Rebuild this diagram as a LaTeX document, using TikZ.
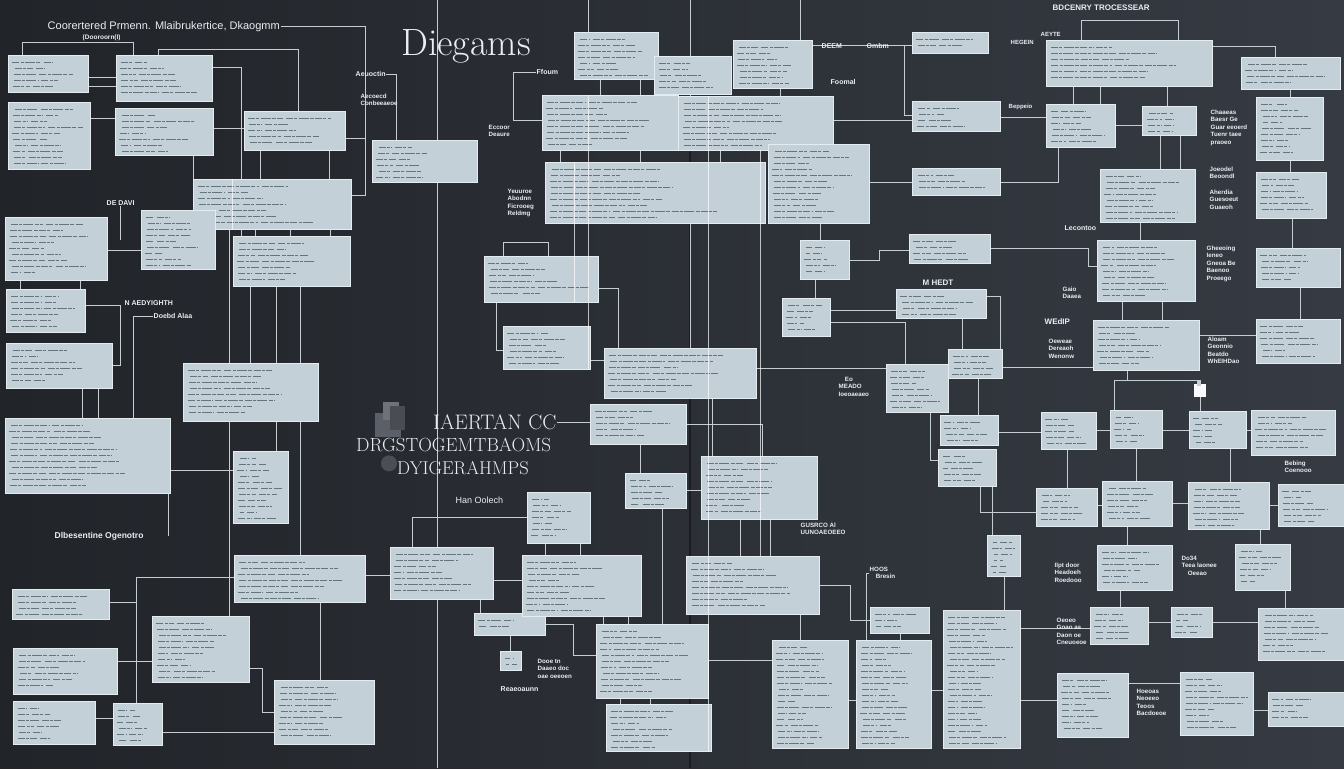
\documentclass[tikz,border=0pt]{standalone}
\usepackage{fontspec}
\usepackage{graphicx}
\setsansfont{Liberation Sans}
\usetikzlibrary{calc}
\pgfdeclarelayer{bg}
\pgfdeclarelayer{background}
\pgfsetlayers{bg,background,main}

\definecolor{bgA}{HTML}{212429}
\definecolor{bgB}{HTML}{363B43}
\definecolor{boxc}{HTML}{C3D0D7}
\definecolor{boxe}{HTML}{E4ECEF}
\definecolor{inkc}{HTML}{65747D}
\definecolor{wirec}{HTML}{C3CDD2}
\definecolor{labc}{HTML}{E9EEF1}
\definecolor{iconA}{HTML}{5B6068}
\definecolor{iconB}{HTML}{6E737B}
\definecolor{seam}{HTML}{1A1D21}

\tikzset{
  box/.style={draw=boxe, line width=0.5pt, fill=boxc, inner sep=0pt, outer sep=0pt},
  ink/.style={draw=inkc, line width=1.1pt, dash pattern=on 7pt off 1.3pt on 3pt off 1.3pt on 10pt off 1.3pt on 4pt off 1.3pt},
  wire/.style={draw=wirec, line width=0.8pt},
  over/.style={draw=white, line width=0.8pt, opacity=0.7},
  lab/.style={text=labc, font=\sffamily\bfseries\fontsize{7}{8}\selectfont, inner sep=0.5pt, anchor=west},
  labs/.style={text=labc, font=\sffamily\bfseries\fontsize{6.2}{7.4}\selectfont, inner sep=0.5pt, anchor=north west, align=left},
  big/.style={text=labc, font=\fontsize{19}{20}\selectfont, inner sep=0pt, anchor=west},
}

% scribbled text rows inside a panel
\newcommand\fakelines[4]{%
  \pgfmathsetmacro\fw{#3-#1-10}%
  \pgfmathsetmacro\ya{#2+7}\pgfmathsetmacro\yb{#2+13}\pgfmathsetmacro\yc{#4-4}%
  \foreach \yy in {\ya,\yb,...,\yc}{%
    \pgfmathsetmacro\la{\fw*(0.1+0.35*rnd)}%
    \pgfmathsetmacro\lb{\fw*(0.08+0.42*rnd)}%
    \pgfmathsetmacro\xa{#1+4+3*rnd}%
    \draw[ink] (\xa,\yy) -- ++(\la,0) ++(3,0) -- ++(\lb,0);}}

% panel: name, left, top, right, bottom (pixels)
\newcommand\bx[5]{%
  \expandafter\xdef\csname bxx@#1\endcsname{#2}%
  \expandafter\xdef\csname byy@#1\endcsname{#3}%
  \pgfmathsetmacro\bw{#4-#2}\pgfmathsetmacro\bh{#5-#3}%
  \node[box,minimum width=\bw pt,minimum height=\bh pt] (#1) at ({(#2+#4)/2},{(#3+#5)/2}) {};%
  \fakelines{#2}{#3}{#4}{#5}}

% named point on a panel side: name, panel, side (n/s/e/w), absolute position
\newcommand\port[4]{%
  \edef\tmpx{\csname bxx@#2\endcsname}\edef\tmpy{\csname byy@#2\endcsname}%
  \pgfmathsetmacro\pdx{#4-\tmpx}\pgfmathsetmacro\pdy{\tmpy-#4}%
  \if n#3\coordinate (#1) at ([xshift=\pdx pt]#2.north west);\fi
  \if s#3\coordinate (#1) at ([xshift=\pdx pt]#2.south west);\fi
  \if e#3\coordinate (#1) at ([yshift=\pdy pt]#2.north east);\fi
  \if w#3\coordinate (#1) at ([yshift=\pdy pt]#2.north west);\fi}
\newcommand\vl[3]{\port{va}{#1}{s}{#3}\port{vb}{#2}{n}{#3}\draw[wire] (va) -- (vb);}
\newcommand\hl[3]{\port{va}{#1}{e}{#3}\port{vb}{#2}{w}{#3}\draw[wire] (va) -- (vb);}

\begin{document}
\begin{tikzpicture}[x=1pt,y=-1pt]
\pgfmathsetseed{7}
\begin{pgfonlayer}{bg}
  \shade[left color=bgA, right color=bgB] (0,0) rectangle (1344,768);
  \draw[wirec, line width=0.7pt] (437,0) -- (437,768);
  \draw[seam, line width=1.6pt] (690,96) -- (690,768);
\end{pgfonlayer}
\useasboundingbox (0,0) rectangle (1344,768);

% ---------- panels ----------
\bx{b1}{8}{55}{88}{92}
\bx{b2}{116}{55}{212}{101}
\bx{b3}{8}{102}{90}{169}
\bx{b4}{115}{108}{213}{155}
\bx{b5}{244}{111}{345}{150}
\bx{b6}{372}{140}{477}{182}
\bx{b7}{193}{179}{351}{229}
\bx{b8}{141}{210}{215}{269}
\bx{b9}{233}{236}{350}{286}
\bx{b10}{5}{217}{107}{280}
\bx{b11}{6}{289}{85}{332}
\bx{b12}{6}{343}{112}{388}
\bx{b13}{183}{363}{318}{421}
\bx{b14}{5}{418}{170}{493}
\bx{b15}{233}{451}{288}{523}
\bx{b16}{12}{589}{109}{619}
\bx{b17}{152}{616}{249}{682}
\bx{b18}{13}{648}{117}{694}
\bx{b19}{13}{701}{95}{744}
\bx{b20}{113}{703}{162}{745}
\bx{b21}{274}{680}{374}{744}
\bx{b22}{234}{555}{365}{602}
\bx{b23}{390}{547}{493}{599}
\bx{b24}{474}{613}{545}{635}
\bx{b25}{522}{555}{641}{616}
\bx{b26}{527}{492}{590}{543}
\bx{b27}{625}{473}{686}{508}
\bx{b28}{596}{624}{708}{698}
\bx{b29}{606}{704}{711}{751}
\bx{b30}{686}{556}{819}{614}
\bx{b31}{701}{456}{817}{519}
\bx{b32}{590}{404}{686}{444}
\bx{b33}{604}{348}{756}{398}
\bx{b34}{503}{326}{590}{369}
\bx{b35}{484}{256}{598}{302}
\bx{b37}{542}{95}{678}{150}
\bx{b38}{678}{96}{833}{150}
\bx{b36}{545}{162}{765}{223}
\bx{b39}{574}{32}{658}{79}
\bx{b40}{654}{56}{731}{94}
\bx{b41}{733}{40}{812}{88}
\bx{b42}{768}{144}{869}{223}
\bx{b43}{800}{240}{849}{279}
\bx{b44}{782}{298}{830}{336}
\bx{b45}{912}{32}{988}{53}
\bx{b46}{1046}{40}{1212}{86}
\bx{b47}{1241}{57}{1340}{89}
\bx{b48}{912}{101}{1000}{131}
\bx{b49}{1046}{104}{1115}{147}
\bx{b50}{1142}{106}{1196}{135}
\bx{b51}{1256}{97}{1323}{160}
\bx{b52}{912}{168}{1000}{195}
\bx{b53}{1100}{169}{1195}{222}
\bx{b54}{1256}{172}{1326}{218}
\bx{b55}{909}{234}{990}{263}
\bx{b56}{1097}{240}{1195}{301}
\bx{b57}{1256}{248}{1340}{287}
\bx{b58}{896}{289}{986}{318}
\bx{b59}{1093}{320}{1199}{370}
\bx{b60}{1256}{319}{1340}{363}
\bx{b61}{948}{349}{1002}{378}
\bx{b62}{886}{364}{948}{412}
\bx{b63}{940}{415}{998}{445}
\bx{b64}{938}{449}{996}{486}
\bx{b65}{1041}{412}{1096}{449}
\bx{b66}{1110}{410}{1162}{448}
\bx{b67}{1189}{411}{1246}{448}
\bx{b68}{1251}{410}{1335}{455}
\bx{b69}{1036}{488}{1097}{526}
\bx{b70}{1102}{481}{1172}{526}
\bx{b71}{1188}{482}{1269}{529}
\bx{b72}{1278}{484}{1344}{526}
\bx{b73}{987}{535}{1020}{576}
\bx{b74}{1097}{545}{1172}{590}
\bx{b75}{1235}{544}{1290}{590}
\bx{b76}{870}{607}{929}{633}
\bx{b77}{856}{640}{931}{748}
\bx{b78}{943}{610}{1020}{748}
\bx{b79}{1090}{607}{1148}{644}
\bx{b80}{1171}{607}{1212}{637}
\bx{b81}{1258}{608}{1344}{660}
\bx{b82}{1057}{673}{1128}{737}
\bx{b83}{1180}{672}{1253}{735}
\bx{b84}{1268}{692}{1344}{726}
\bx{b85}{772}{640}{848}{748}
\bx{b86}{500}{651}{521}{670}

% ---------- labels ----------
\node[text=labc, font=\sffamily\fontsize{11}{12}\selectfont, inner sep=0.5pt, anchor=west] (lt1) at (47,26) {Coorertered Prmenn. Mlaibrukertice, Dkaogmm};
\node[lab, font=\sffamily\bfseries\fontsize{6.5}{7}\selectfont] (lt2) at (82,37) {(Dooroorn(I)};
\node[text=labc, font=\fontsize{38}{40}\selectfont, inner sep=0pt, anchor=west] (lt3) at (401,46) {Diegams};
\node[lab] (lt4) at (536,72) {Ffoum};
\node[lab] (lt5) at (355,74) {Aeuoctin};
\node[labs] (lt6) at (360,93) {Aecoecd\\Conbeeaeoe};
\node[lab] (lt7) at (106,203) {DE DAVI};
\node[lab] (lt8) at (124,303) {N AEDYIGHTH};
\node[lab] (lt9) at (153,316) {Doebd Alaa};
\node[labs] (lt10) at (488,124) {Eccoor\\Deaure};
\node[labs] (lt11) at (507,188) {Yeuuroe\\Abodnn\\Ficrooeg\\Reldmg};
\node[lab] (lt12) at (821,46) {DEEM};
\node[lab] (lt13) at (866,46) {Ombm};
\node[lab] (lt14) at (830,82) {Foomal};
\node[lab, font=\sffamily\bfseries\fontsize{8}{9}\selectfont] (lt15) at (1052,7) {BDCENRY TROCESSEAR};
\node[lab, font=\sffamily\bfseries\fontsize{6}{7}\selectfont] (lt16) at (1040,34) {AEYTE};
\node[lab, font=\sffamily\bfseries\fontsize{6}{7}\selectfont] (lt17) at (1010,42) {HEGEIN};
\node[lab, font=\sffamily\bfseries\fontsize{6}{7}\selectfont] (lt18) at (1008,107) {Beppeio};
\node[labs] (lt19) at (1210,109) {Chaaeas\\Baesr Ge\\Guar eeoerd\\Tuenr taee\\praoeo};
\node[labs] (lt20) at (1209,166) {Joeodel\\Beoondl};
\node[labs] (lt21) at (1209,189) {Aherdia\\Guesoeut\\Guaeoh};
\node[lab] (lt22) at (1064,228) {Lecontoo};
\node[labs] (lt23) at (1206,245) {Gheeoing\\Ieneo\\Gneoa Be\\Baenoo\\Proeego};
\node[lab, font=\sffamily\bfseries\fontsize{8}{9}\selectfont] (lt24) at (922,282) {M HEDT};
\node[labs] (lt25) at (1062,286) {Gaio\\Daaea};
\node[lab, font=\sffamily\bfseries\fontsize{8}{9}\selectfont] (lt26) at (1044,321) {WEdIP};
\node[labs] (lt27) at (1048,338) {Oeweae\\Dereaoh\\Wenonw};
\node[labs] (lt28) at (1207,336) {Aloam\\Geonnio\\Beatdo\\WhEIHDao};
\node[labs] (lt29) at (1284,460) {Bebing\\Coenooo};
\node[labs] (lt30) at (838,376) {\quad Eo\\MEADO\\Ioeoaeaeo};
\node[labs] (lt31) at (800,522) {GUSRCO Al\\UUNOAEOEEO};
\node[labs] (lt32) at (869,566) {HOOS\\\quad Bresin};
\node[labs] (lt33) at (1054,562) {Ilpt door\\Headoeh\\Roedooo};
\node[labs] (lt34) at (1181,555) {Do34\\Teea laonee\\\quad Oeeao};
\node[labs] (lt35) at (1056,617) {Oeoeo\\Goao aa\\Daon oe\\Cneuoeoe};
\node[labs] (lt36) at (1136,688) {Hoeoas\\Neoeeo\\Teoos\\Bacdoeoe};
\node[lab, font=\sffamily\bfseries\fontsize{8.5}{9}\selectfont] (lt37) at (54,536) {Dlbesentine Ogenotro};
\node[big, font=\fontsize{21}{22}\selectfont] (lt38) at (433,422) {IAERTAN CC};
\node[big] (lt39) at (356,445) {DRGSTOGEMTBAOMS};
\node[big, font=\fontsize{18.5}{20}\selectfont] (lt40) at (397,468) {DYIGERAHMPS};
\node[lab, font=\sffamily\fontsize{9}{10}\selectfont] (lt41) at (455,500) {Han Oolech};
\node[labs] (lt42) at (537,658) {Dooe tn\\Daaeo doc\\oae oeeoen};
\node[lab] (lt43) at (500,689) {Reaeoaunn};

% small icons
\fill[iconA] (375,413) rectangle (401,437);
\fill[iconB] (383,402) rectangle (399,420);
\fill[iconA!80!black] (390,406) rectangle (405,430);
\fill[iconA!70!bgA] (389,463) circle (8);
\fill[white!90!boxc] (1194,384) rectangle (1206,397);
\fill[boxc] (1197,381) rectangle (1201,386);

% ---------- connectors ----------
\begin{pgfonlayer}{background}
\port{p}{b1}{n}{22}\port{q}{b2}{n}{133}\draw[wire] (p) -- ++(0,-13) -| (q);
\port{p}{b2}{n}{158}\port{q}{b5}{n}{298}\draw[wire] (p) -- ++(0,-6) -| (q);
\hl{b1}{b2}{77}\hl{b1}{b2}{86}
\hl{b3}{b4}{118}\hl{b4}{b5}{128}
\port{p}{b5}{e}{138}\draw[wire] (p) -- ++(20,0) |- (lt1.east);
\port{q}{b7}{e}{195}\draw[wire] (p) -- ++(20,0) |- (q);
\port{p}{b6}{n}{396}\draw[wire] (p) |- (lt5.east);
\vl{b4}{b7}{193}
\vl{b5}{b7}{260}\vl{b5}{b7}{329}
\port{p}{b2}{e}{67}\port{q}{b9}{n}{241}\draw[wire] (p) -| (q);
\vl{b7}{b9}{255}\vl{b7}{b9}{290}\vl{b7}{b9}{330}
\hl{b10}{b8}{250}
\draw[wire] (lt7.south) -- (lt7.south |- b8.west);
\vl{b10}{b11}{20}\vl{b10}{b11}{80}
\port{p}{b11}{e}{305}\port{q}{b12}{e}{365}\draw[wire] (p) -- ++(35,0) |- (q);
\port{p}{b14}{n}{133}\draw[wire] (lt9.west) -| (p);
\vl{b12}{b14}{82}\vl{b12}{b14}{98}
\vl{b9}{b13}{250}\vl{b9}{b13}{276}
\vl{b9}{b22}{300}
\vl{b7}{b17}{229}
\vl{b13}{b15}{276}
\hl{b14}{b15}{470}
\port{p}{b14}{s}{168}\draw[wire] (p) -- (p |- lt37.east);
\port{p}{b16}{e}{602}\port{q}{b20}{n}{136}\draw[wire] (p) -| (q);
\port{q}{b22}{w}{577}\draw[wire] (p) -- ++(27,0) |- (q);
\port{p}{b17}{e}{668}\port{q}{b21}{w}{712}\draw[wire] (p) -- ++(13,0) |- (q);
\hl{b18}{b17}{661}
\hl{b19}{b20}{718}
\hl{b20}{b21}{732}
\vl{b22}{b21}{320}
\hl{b22}{b23}{575}
\vl{b23}{b24}{480}
\hl{b23}{b25}{580}
\port{p}{b23}{n}{412}\draw[wire] (p) |- (b26.west);
\vl{b26}{b25}{545}\vl{b26}{b25}{580}
\vl{b25}{b28}{603}\vl{b25}{b28}{628}
\vl{b28}{b29}{620}\vl{b28}{b29}{650}
\hl{b27}{b31}{490}
\vl{b31}{b30}{740}\vl{b31}{b30}{770}
\vl{b30}{b85}{800}
\port{p}{b24}{e}{624}\port{q}{b28}{w}{655}\draw[wire] (p) -- ++(28,0) |- (q);
\vl{b32}{b27}{640}
\vl{b33}{b31}{712}
\hl{b34}{b33}{360}
\port{p}{b35}{n}{503}\port{q}{b35}{n}{548}\draw[wire] (p) -- ++(0,-14) -| (q);
\port{p}{b35}{e}{288}\port{q}{b33}{n}{618}\draw[wire] (p) -| (q);
\port{p}{b35}{s}{496}\port{q}{b34}{w}{350}\draw[wire] (p) |- (q);
\draw[wire] (lt38.east) -- (lt38.east -| b32.west);
\vl{b37}{b36}{560}\vl{b37}{b36}{640}\vl{b38}{b36}{720}
\vl{b39}{b37}{600}\vl{b39}{b37}{640}
\vl{b41}{b38}{780}
\vl{b36}{b33}{690}
\vl{b42}{b43}{820}
\vl{b43}{b44}{815}
\port{p}{b44}{e}{322}\port{q}{b62}{n}{905}\draw[wire] (p) -| (q);
\port{p}{b37}{w}{120}\draw[wire] (p) -- ++(-29,0) |- (lt4.west);
\port{p}{b39}{n}{588}\draw[wire] (p) -- ++(0,-32);
\port{p}{b38}{n}{690}\draw[wire] (p) -- ++(0,-96);
\port{p}{b41}{n}{800}\draw[wire] (p) -- ++(0,-40);
% right half
\port{p}{b45}{w}{45}\port{q}{b48}{w}{115}\draw[wire] (p) -- ++(-8,0) |- (q);
\port{p}{b46}{n}{1081}\port{q}{b46}{n}{1178}\draw[wire] (p) -- ++(0,-20) -| (q);
\port{p}{b46}{e}{46}\port{q}{b47}{n}{1275}\draw[wire] (p) -| (q);
\vl{b46}{b49}{1073}\vl{b46}{b49}{1100}\vl{b46}{b50}{1167}
\hl{b48}{b49}{117}\hl{b49}{b50}{125}
\vl{b50}{b53}{1160}\vl{b50}{b53}{1180}
\port{p}{b49}{s}{1058}\port{q}{b52}{e}{182}\draw[wire] (p) |- (q);
\vl{b47}{b51}{1290}\vl{b51}{b54}{1290}
\vl{b53}{b56}{1140}
\vl{b54}{b57}{1292}
\port{p}{b55}{e}{248}\port{q}{b56}{w}{266}\draw[wire] (p) -- ++(98,0) |- (q);
\vl{b56}{b59}{1122}\vl{b56}{b59}{1162}
\vl{b57}{b60}{1300}
\hl{b59}{b60}{335}
\port{p}{b58}{e}{296}\port{q}{b59}{w}{367}\draw[wire] (p) -- ++(14,0) |- (q);
\vl{b58}{b61}{962}
\vl{b61}{b63}{978}
\port{p}{b62}{s}{930}\port{q}{b64}{w}{460}\draw[wire] (p) |- (q);
\hl{b63}{b65}{432}\hl{b65}{b66}{430}\hl{b66}{b67}{430}\hl{b67}{b68}{430}
\vl{b65}{b69}{1067}\vl{b66}{b70}{1136}\vl{b67}{b71}{1230}
\hl{b69}{b70}{505}\hl{b70}{b71}{503}\hl{b71}{b72}{505}
\vl{b70}{b74}{1127}\vl{b71}{b75}{1260}
\vl{b74}{b79}{1120}\hl{b79}{b80}{622}\hl{b80}{b81}{622}
\vl{b75}{b81}{1285}
\port{p}{b64}{s}{980}\port{q}{b69}{w}{512}\draw[wire] (p) |- (q);
\vl{b64}{b73}{992}
\port{p}{b59}{s}{1127}\port{q}{b66}{n}{1114}\draw[wire] (p) -- ++(0,10) -| (q);
\port{q}{b67}{n}{1200}\draw[wire] (p) -- ++(0,10) -| (q);
\vl{b76}{b77}{900}
\hl{b77}{b78}{690}
\hl{b82}{b83}{683}\hl{b83}{b84}{710}
\hl{b78}{b82}{700}
\port{p}{b73}{s}{1004}\port{q}{b79}{w}{628}\draw[wire] (p) |- (q);
\port{p}{b77}{n}{866}\draw[wire] (p) |- (lt32.west);
\port{p}{b30}{e}{585}\port{q}{b76}{w}{620}\draw[wire] (p) -- ++(31,0) |- (q);
\hl{b42}{b52}{182}
\hl{b38}{b48}{120}
\hl{b41}{b45}{45}
\port{p}{b43}{e}{260}\port{q}{b55}{w}{250}\draw[wire] (p) -- ++(30,0) |- (q);
\hl{b44}{b58}{310}
\hl{b33}{b62}{368}
\port{p}{b32}{e}{424}\port{q}{b31}{n}{762}\draw[wire] (p) -| (q);
\vl{b27}{b28}{662}
\hl{b28}{b85}{660}
\hl{b85}{b77}{700}
\vl{b24}{b86}{510}
\end{pgfonlayer}

% bright runs crossing the panels
\port{p}{b36}{n}{574}\port{q}{b35}{s}{574}\draw[over] (p) -- (q);
\port{p}{b37}{n}{588}\port{q}{b34}{s}{588}\draw[over] (p) -- (q);
\port{p}{b38}{n}{708}\port{q}{b29}{s}{708}\draw[over] (p) -- (q);
\port{p}{b38}{s}{760}\port{q}{b30}{n}{760}\draw[over] (p) -- (q);
\port{p}{b7}{n}{232}\port{q}{b7}{s}{232}\draw[over] (p) -- (q);
\end{tikzpicture}
\end{document}
